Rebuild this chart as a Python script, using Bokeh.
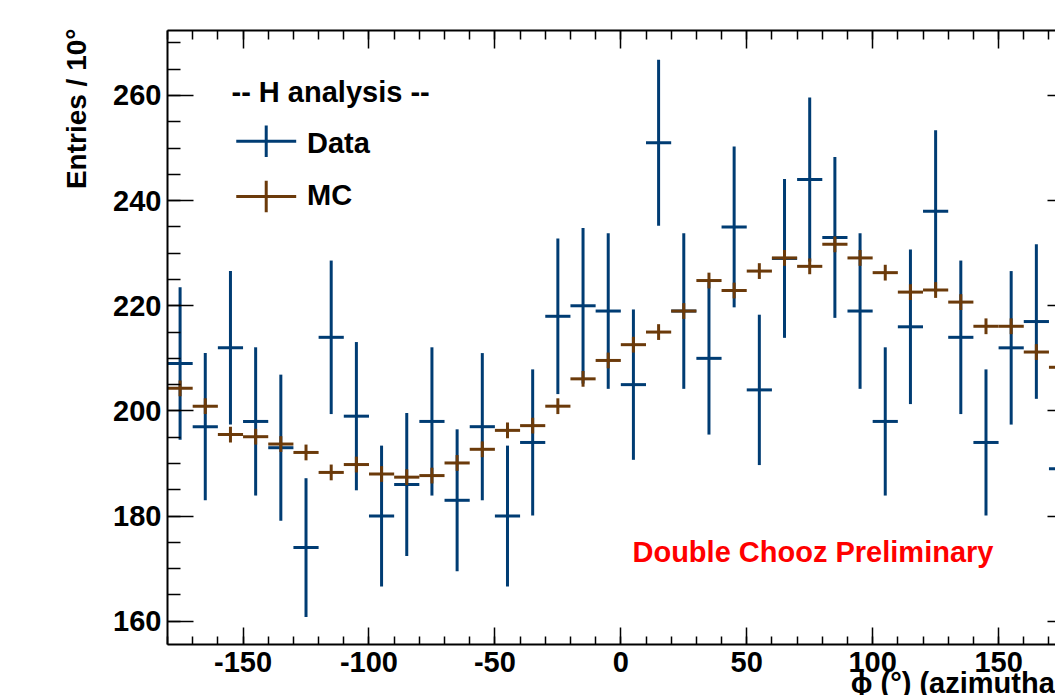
from bokeh.plotting import figure
from bokeh.models import (LinearAxis, SingleIntervalTicker, Range1d, Label,
                          ColumnDataSource, PrintfTickFormatter,
                          CustomJSTickFormatter, Title)
from bokeh.embed import file_html
from bokeh.resources import INLINE

# ---------------- data ----------------
phi_centers = [-175, -165, -155, -145, -135, -125, -115, -105, -95, -85,
               -75, -65, -55, -45, -35, -25, -15, -5, 5, 15,
               25, 35, 45, 55, 65, 75, 85, 95, 105, 115,
               125, 135, 145, 155, 165, 175]
data_counts = [209, 197, 212, 198, 193, 174, 214, 199, 180, 186,
               198, 183, 197, 180, 194, 218, 220, 219, 205, 251,
               219, 210, 235, 204, 229, 244, 233, 219, 198, 216,
               238, 214, 194, 212, 217, 189]
data_errors = [14.5, 14.0, 14.6, 14.1, 13.9, 13.2, 14.6, 14.1, 13.4, 13.6,
               14.1, 13.5, 14.0, 13.4, 13.9, 14.8, 14.8, 14.8, 14.3, 15.8,
               14.8, 14.5, 15.3, 14.3, 15.1, 15.6, 15.3, 14.8, 14.1, 14.7,
               15.4, 14.6, 13.9, 14.6, 14.7, 13.7]
mc_values = [204.3, 200.9, 195.5, 195.1, 193.7, 192.1, 188.3, 189.8, 188.0, 187.4,
             187.7, 190.1, 192.7, 196.3, 197.2, 200.9, 206.1, 209.6, 212.6, 215.0,
             219.0, 224.8, 222.9, 226.6, 229.1, 227.5, 231.7, 229.1, 226.3, 222.6,
             223.0, 220.7, 216.1, 216.1, 211.2, 208.3]
mc_errors = [1.5] * 36
bin_width = 10.0

# ---------------- styles ----------------
BLUE = "#003C73"
BROWN = "#6B3A0A"
FONT = "Liberation Sans"
FSIZE = "29px"

p = figure(width=1055, height=695, output_backend="svg", toolbar_location=None,
           x_range=Range1d(-180, 172.6), y_range=Range1d(155.57, 272.36),
           x_axis_type=None, y_axis_type=None,
           min_border_left=167, min_border_right=0, min_border_top=30,
           min_border_bottom=51)
p.outline_line_color = None
p.background_fill_color = "white"
p.border_fill_color = "white"

xt = SingleIntervalTicker(interval=50, num_minor_ticks=5)
yt = SingleIntervalTicker(interval=20, num_minor_ticks=4)
blank = CustomJSTickFormatter(code="return ''")


def style_axis(ax, tick_in, minor_in, labels=True, line=True):
    ax.major_tick_out = 0
    ax.minor_tick_out = 0
    ax.major_tick_in = tick_in
    ax.minor_tick_in = minor_in
    ax.major_tick_line_width = 1.5
    ax.minor_tick_line_width = 1.5
    ax.major_tick_line_color = "black"
    ax.minor_tick_line_color = "black"
    ax.axis_line_width = 2 if line else 0
    ax.axis_line_color = "black" if line else None
    if labels:
        ax.formatter = PrintfTickFormatter(format="%d")
        ax.major_label_text_font = FONT
        ax.major_label_text_font_style = "bold"
        ax.major_label_text_font_size = FSIZE
        ax.major_label_text_color = "black"
    else:
        ax.formatter = blank
        ax.major_label_text_font_size = "0px"
        ax.major_label_standoff = 0


xb = LinearAxis(ticker=xt)
style_axis(xb, 17, 8)
xb.major_label_standoff = 7
p.add_layout(xb, "below")

xa = LinearAxis(ticker=xt)
style_axis(xa, 18, 9, labels=False)
p.add_layout(xa, "above")

yl = LinearAxis(ticker=yt)
style_axis(yl, 26, 13)
yl.major_label_standoff = 6
p.add_layout(yl, "left")

yr = LinearAxis(ticker=yt)
style_axis(yr, 8, 0, labels=False, line=False)
p.add_layout(yr, "right")

# axis titles (ROOT style: aligned with the end of each axis)
p.add_layout(Title(text="Entries / 10°", align="right", vertical_align="top",
                   standoff=34, offset=-2, text_font=FONT,
                   text_font_style="bold", text_font_size="28px",
                   text_color="black"), "left")
p.add_layout(Title(text="ϕ (°) (azimuthal)", align="right",
                   vertical_align="bottom", standoff=-20, offset=-17,
                   text_font=FONT, text_font_style="bold",
                   text_font_size=FSIZE, text_color="black"), "below")

# ---------------- data and MC crosses ----------------
half = bin_width / 2.0
d_src = ColumnDataSource(dict(
    x=phi_centers, y=data_counts,
    x0=[c - half for c in phi_centers], x1=[c + half for c in phi_centers],
    lo=[v - e for v, e in zip(data_counts, data_errors)],
    hi=[v + e for v, e in zip(data_counts, data_errors)]))
m_src = ColumnDataSource(dict(
    x=phi_centers, y=mc_values,
    x0=[c - half for c in phi_centers], x1=[c + half for c in phi_centers],
    lo=[v - e for v, e in zip(mc_values, mc_errors)],
    hi=[v + e for v, e in zip(mc_values, mc_errors)]))

for src, col in ((d_src, BLUE), (m_src, BROWN)):
    p.segment(x0="x0", y0="y", x1="x1", y1="y", source=src,
              line_color=col, line_width=3, line_cap="butt")
    p.segment(x0="x", y0="lo", x1="x", y1="hi", source=src,
              line_color=col, line_width=3, line_cap="butt")

# ---------------- legend (drawn by hand, ROOT style) ----------------
LEG_X = -140.8
LEG_HALF_W = 11.9
LEG_HALF_H = 3.0
LEG_Y = [251.3, 240.8]
LEG_COL = [BLUE, BROWN]
leg_src = ColumnDataSource(dict(
    x=[LEG_X, LEG_X], y=LEG_Y, col=LEG_COL,
    x0=[LEG_X - LEG_HALF_W] * 2, x1=[LEG_X + LEG_HALF_W] * 2,
    lo=[v - LEG_HALF_H for v in LEG_Y], hi=[v + LEG_HALF_H for v in LEG_Y]))
p.segment(x0="x0", y0="y", x1="x1", y1="y", source=leg_src,
          line_color="col", line_width=3, line_cap="butt")
p.segment(x0="x", y0="lo", x1="x", y1="hi", source=leg_src,
          line_color="col", line_width=3, line_cap="butt")


def add_label(text, x, y, color="black"):
    p.add_layout(Label(text=text, x=x, y=y, x_units="screen", y_units="screen",
                       text_font=FONT, text_font_style="bold",
                       text_font_size=FSIZE, text_color=color,
                       text_align="left", text_baseline="alphabetic"))


add_label("-- H analysis --", 64, 553)
add_label("Data", 139.5, 501.5)
add_label("MC", 139.5, 449.5)
add_label("Double Chooz Preliminary", 465, 92.5, color="#FF0000")

open("out.html", "w").write(file_html(p, INLINE))
